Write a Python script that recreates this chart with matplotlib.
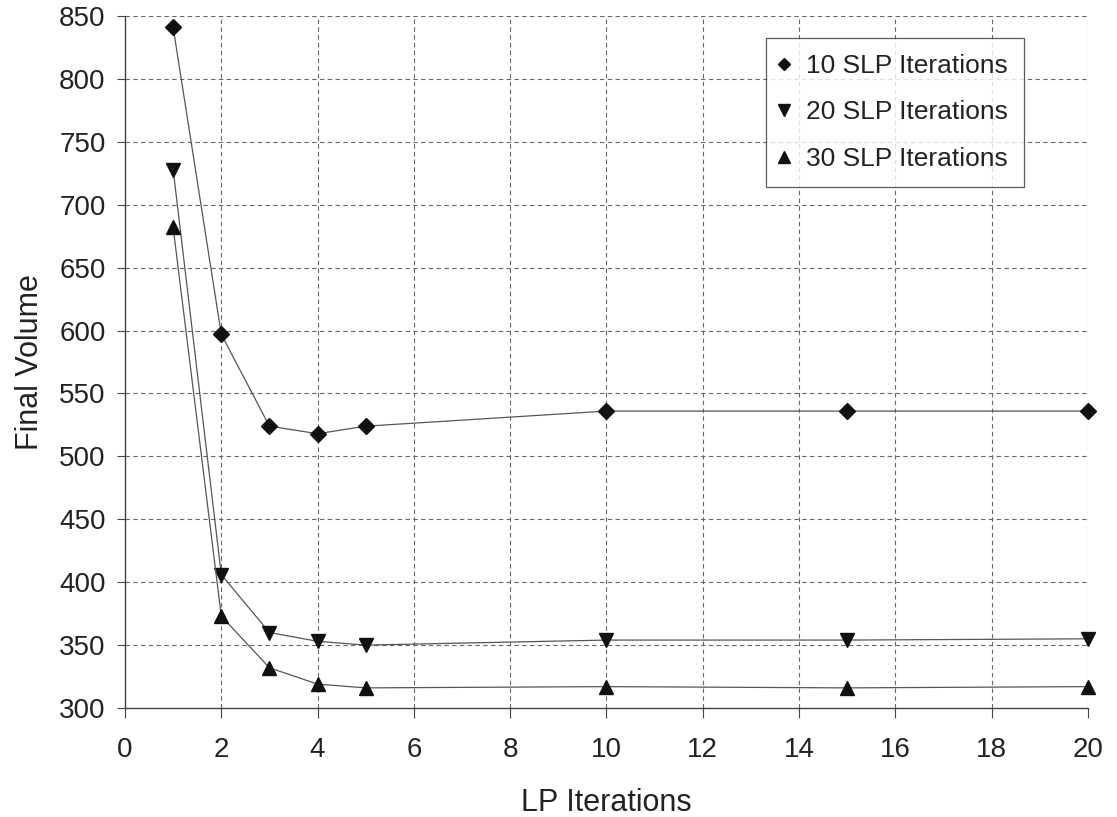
import matplotlib.pyplot as plt
from matplotlib.lines import Line2D

plt.rcParams['font.family'] = ['Liberation Sans', 'DejaVu Sans']

lp_iters = [1, 2, 3, 4, 5, 10, 15, 20]
slp10 = [841, 597, 524, 518, 524, 536, 536, 536]
slp20 = [728, 406, 360, 353, 350, 354, 354, 355]
slp30 = [682, 373, 332, 319, 316, 317, 316, 317]

labels = ['10 SLP Iterations', '20 SLP Iterations', '30 SLP Iterations']
markers = ['D', 'v', '^']
sizes = [8, 10, 10]

fig = plt.figure(figsize=(11.17, 8.17), dpi=100)
ax = fig.add_axes([0.1119, 0.1334, 0.8621, 0.8470])

for ys, m, s in zip([slp10, slp20, slp30], markers, sizes):
    ax.plot(lp_iters, ys, color='#555555', lw=0.9, marker=m, ms=s,
            mfc='#111111', mec='#111111', zorder=3, clip_on=False)

ax.set_xlim(0, 20)
ax.set_ylim(300, 850)
ax.set_xticks(range(0, 21, 2))
ax.set_yticks(range(300, 851, 50))
ax.grid(True, ls=(0, (4, 3)), color='#666666', lw=0.8)
ax.spines['top'].set_visible(False)
ax.spines['right'].set_visible(False)
for sp in ['left', 'bottom']:
    ax.spines[sp].set_color('#444444')
    ax.spines[sp].set_linewidth(1.0)
ax.tick_params(labelsize=20, direction='out', color='#444444', labelcolor='#222222')
ax.tick_params(axis='x', length=7, pad=14)
ax.tick_params(axis='y', length=6, pad=8)
ax.set_xlabel('LP Iterations', fontsize=22, color='#222222', labelpad=18)
ax.set_ylabel('Final Volume', fontsize=22, color='#222222', labelpad=10)

handles = [Line2D([], [], ls='none', marker=m, ms=s * 0.8, mfc='#111111', mec='#111111')
           for m, s in zip(markers, sizes)]
leg = ax.legend(handles, labels, loc='upper left', bbox_to_anchor=(0.6656, 0.968),
                fontsize=19, frameon=True, fancybox=False, edgecolor='#333333',
                handlelength=0.2, handletextpad=0.72, labelspacing=0.85,
                borderpad=0.6, borderaxespad=0)
leg.get_frame().set_linewidth(0.9)
for t in leg.get_texts():
    t.set_color('#222222')

fig.savefig('out.png', dpi=100, facecolor='white')
